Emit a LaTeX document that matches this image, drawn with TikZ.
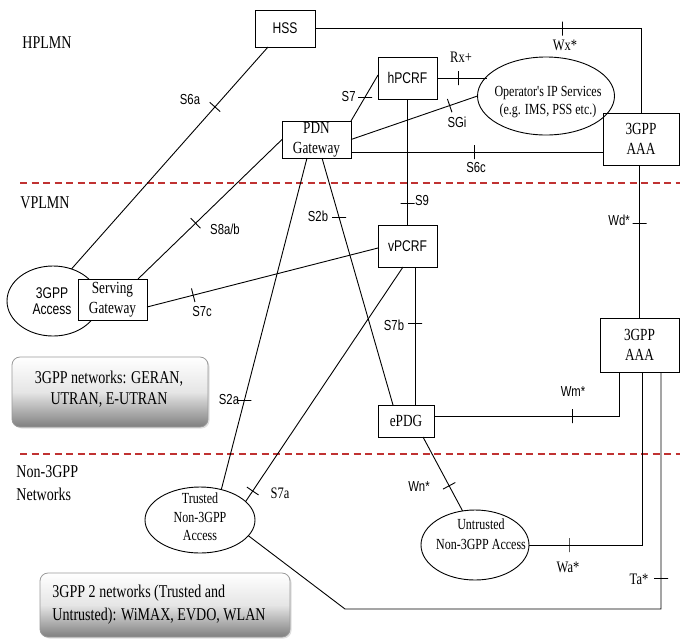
\documentclass[tikz,border=0pt]{standalone}
\usepackage{fontspec}
\newfontfamily\ser{Liberation Serif}[FakeStretch=0.78]
\newfontfamily\san{Liberation Sans}[FakeStretch=0.78]
\usetikzlibrary{calc,shapes.geometric,shadows}
\definecolor{dashred}{RGB}{192,50,50}
\begin{document}
\begin{tikzpicture}[x=1pt,y=-1pt,line width=0.9pt,
  box/.style={draw,fill=white,inner sep=0pt,outer sep=0pt,align=center},
  ell/.style={draw,ellipse,inner sep=0pt,outer sep=0pt,align=center},
  sbox/.style={font=\san\fontsize{15.5}{16}\selectfont},
  fbox/.style={font=\ser\fontsize{17}{20}\selectfont},
  lab/.style={inner sep=0pt,font=\san\fontsize{14.5}{15}\selectfont},
  slab/.style={inner sep=0pt,font=\ser\fontsize{16}{16}\selectfont},
  etext/.style={inner sep=0pt,align=center,font=\ser\fontsize{15.4}{18.5}\selectfont},
  big/.style={inner sep=0pt,align=left,font=\ser\fontsize{18}{23}\selectfont},
  tk/.style={draw,rectangle,inner sep=0pt,outer sep=0pt,minimum width=0pt,minimum height=14pt,line join=bevel},
  htk/.style={draw,rectangle,inner sep=0pt,outer sep=0pt,minimum height=0pt,minimum width=14pt,line join=bevel},
  reddash/.style={draw=dashred,line width=1.8pt,dash pattern=on 7pt off 4.5pt},
  rbox/.style={rounded corners=8pt,draw=black!40,line width=0.8pt,top color=white,bottom color=black!50,middle color=black!10,
    drop shadow={opacity=0.25,shadow xshift=1.5pt,shadow yshift=-1.5pt}}
]
\useasboundingbox (0,0) rectangle (680,641);

% region separators
\draw[reddash] (20,183) -- (680,183);
\draw[reddash] (20,454) -- (680,454);

% region labels
\node[big,anchor=west] (hplmn) at (22,43) {HPLMN};
\node[big,anchor=west] (vplmn) at (20,203) {VPLMN};
\node[big,anchor=north west] (non3gpp) at (16,465) {Non-3GPP\\Networks};

% info boxes
\path[rbox] (12,357) rectangle (208,427);
\node[big,align=center,font=\ser\fontsize{18}{21}\selectfont] (info1) at (109,389.5) {3GPP networks: GERAN,\\UTRAN, E-UTRAN};
\path[rbox] (40,573) rectangle (290,637);
\node[big,anchor=west,font=\ser\fontsize{18}{23}\selectfont] (info2) at (52,604.5) {3GPP 2 networks (Trusted and\\Untrusted): WiMAX, EVDO, WLAN};

% nodes
\node[box,sbox,minimum width=60,minimum height=37] (hss) at (285,28.5) {HSS};
\node[box,sbox,minimum width=59,minimum height=42] (hpcrf) at (407.5,78) {hPCRF};
\node[box,fbox,minimum width=69,minimum height=37] (pdn) at (316.5,139.5) {PDN\\Gateway};
\node[box,fbox,minimum width=76,minimum height=52] (aaa1) at (641,139) {3GPP\\AAA};
\node[box,sbox,minimum width=59,minimum height=42] (vpcrf) at (407.5,246) {vPCRF};
\node[box,fbox,minimum width=79,minimum height=54] (aaa2) at (639.5,345) {3GPP\\AAA};
\node[box,fbox,minimum width=56,minimum height=32] (epdg) at (406,421) {ePDG};
\node[ell,minimum width=137,minimum height=78] (ops) at (546,96) {};
\node[etext] (opst) at (548,102) {Operator's IP Services\\(e.g. IMS, PSS etc.)};
\node[ell,minimum width=110,minimum height=66] (tr) at (200,520) {};
\node[etext] (trt) at (200,517) {Trusted\\Non-3GPP\\Access};
\node[ell,minimum width=108,minimum height=70] (un) at (475,545) {};
\node[etext,font=\ser\fontsize{15.4}{20}\selectfont] (unt) at (481,534) {Untrusted\\Non-3GPP Access};
\node[ell,minimum width=92,minimum height=70,font=\san\fontsize{15.5}{16}\selectfont] (acc) at (53,301) {\hspace*{-2pt}3GPP\\\hspace*{-2pt}Access};
\node[box,fbox,minimum width=69,minimum height=41] (sgw) at (112.5,299.5) {Serving\\Gateway};

\coordinate (tacorner) at (345,609);

% connectors
\draw (hss.east) -| node[tk,pos=0.38]{} (aaa1.north);
\draw ($(hss.south west)+(13,0)$) -- node[tk,sloped,pos=0.27]{} (acc.60);
\draw (hpcrf.east) -- node[tk,pos=0.44]{} (hpcrf.east -| ops.162);
\draw (pdn.north east) -- node[htk,pos=0.52]{} ($(hpcrf.west)+(0,-3)$);
\draw (pdn.east) -- node[tk,sloped,pos=0.78]{} (ops.west);
\draw ($(pdn.south east)+(0,-6)$) coordinate (s6cs) -- node[tk,pos=0.49]{} (s6cs -| aaa1.west);
\draw (hpcrf.south) -- node[htk,pos=0.825]{} (vpcrf.north);
\draw (aaa2.north |- aaa1.south) -- node[htk,pos=0.38]{} (aaa2.north);
\draw ($(pdn.south)+(5.5,0)$) -- node[htk,pos=0.24]{} ($(epdg.north west)+(15,0)$);
\draw ($(pdn.south)+(-9.5,0)$) -- node[htk,pos=0.73]{} (tr.55);
\draw ($(vpcrf.south)+(-4.5,0)$) -- node[tk,sloped,pos=0.955]{} (tr.22);
\draw ($(vpcrf.south)+(7.5,0)$) coordinate (s7bs) -- node[htk,pos=0.41]{} (s7bs |- epdg.north);
\draw ($(epdg.east)+(0,-5)$) -| node[tk,pos=0.373]{} ($(aaa2.south)+(-20.5,0)$);
\draw ($(epdg.south)+(17,0)$) -- node[tk,sloped,pos=0.66]{} (un.110);
\draw ($(aaa2.south)+(2.5,0)$) |- node[tk,pos=0.823]{} (un.east);
\draw ($(aaa2.south)+(21.5,0)$) |- node[htk,pos=0.435]{} (tacorner) -- (tr.-18);
\draw (pdn.west) -- node[tk,sloped,pos=0.6]{} ($(sgw.north east)+(-9,0)$);
\draw ($(sgw.east)+(0,7.5)$) -- node[tk,sloped,pos=0.2]{} ($(vpcrf.west)+(0,2)$);

% interface labels
\node[lab] (l6a) at (190,100) {S6a};
\node[slab] (lwx) at (565,45) {Wx*};
\node[slab] (lrx) at (461,57) {Rx+};
\node[lab,anchor=east] (l7) at (356,97) {S7};
\node[lab] (lsgi) at (457,122) {SGi};
\node[lab] (l6c) at (476,168) {S6c};
\node[lab] (l9) at (422,201) {S9};
\node[lab] (lwd) at (619,220) {Wd*};
\node[lab] (l2b) at (318,216) {S2b};
\node[lab] (l8) at (225,229) {S8a/b};
\node[lab] (l7c) at (202,311) {S7c};
\node[lab] (l7b) at (394,325) {S7b};
\node[lab] (lwm) at (573,392) {Wm*};
\node[lab] (l2a) at (229,399) {S2a};
\node[slab] (l7a) at (280,493) {S7a};
\node[lab] (lwn) at (419,487) {Wn*};
\node[slab] (lwa) at (568,567) {Wa*};
\node[slab] (lta) at (639,579) {Ta*};
\end{tikzpicture}
\end{document}
